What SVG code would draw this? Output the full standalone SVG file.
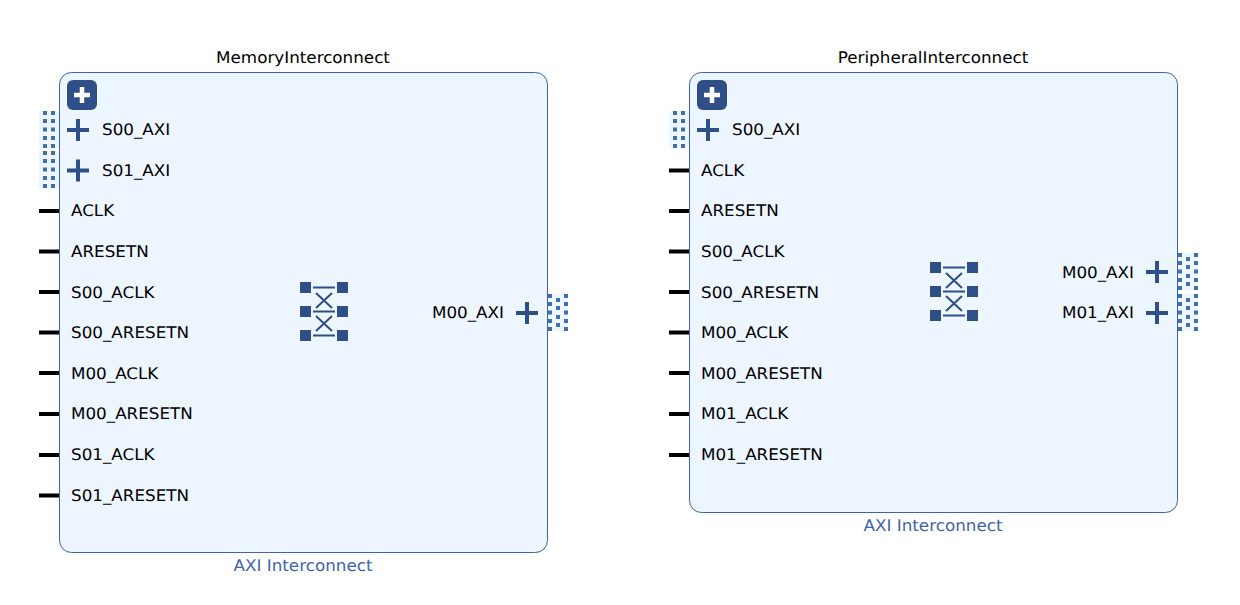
<svg xmlns="http://www.w3.org/2000/svg" width="1240" height="605" viewBox="0 0 1240 605">
<style>
text{font-family:"DejaVu Sans",sans-serif;font-size:16px;fill:#000;text-rendering:geometricPrecision}
.kind{fill:#3f63ad}
.mid{text-anchor:middle}
.end{text-anchor:end}
.box{fill:#edf5ff;stroke:#3f63ad;stroke-width:1}
.bar{stroke:#000;stroke-width:4;fill:none}
.p{stroke:#2f4f88;stroke-width:4;fill:none}
.w{stroke:#fff;stroke-width:4.5;fill:none}
.s{fill:#2f4f88}
.t{stroke:#2f4f88;stroke-width:2;fill:none}
.bg{fill:#edf5ff}
.d{fill:#3f6fae}
</style>
<defs>
<g id="plus"><path class="p" d="M-11 0H11M0-11V11"/></g>
<g id="btn"><rect class="s" x="0" y="0" width="30" height="30" rx="6"/><path class="w" d="M7 15H23M15 7V23"/></g>
<g id="lport"><rect class="bg" x="0" y="0" width="21" height="37"/><g class="d"><rect x="4" y="0" width="4" height="4"/><rect x="12" y="0" width="4" height="4"/><rect x="4" y="8" width="4" height="4"/><rect x="12" y="8" width="4" height="4"/><rect x="4" y="16.500" width="4" height="4"/><rect x="12" y="16.500" width="4" height="4"/><rect x="4" y="25" width="4" height="4"/><rect x="12" y="25" width="4" height="4"/><rect x="4" y="33" width="4" height="4"/><rect x="12" y="33" width="4" height="4"/></g></g>
<g id="rport"><rect class="bg" x="0" y="0" width="20" height="37"/><g class="d"><rect x="0" y="0" width="4" height="4"/><rect x="16" y="0" width="4" height="4"/><rect x="0" y="8" width="4" height="4"/><rect x="16" y="8" width="4" height="4"/><rect x="0" y="16.500" width="4" height="4"/><rect x="16" y="16.500" width="4" height="4"/><rect x="0" y="25" width="4" height="4"/><rect x="16" y="25" width="4" height="4"/><rect x="0" y="33" width="4" height="4"/><rect x="16" y="33" width="4" height="4"/><rect x="8" y="4" width="4" height="4"/><rect x="8" y="12" width="4" height="4"/><rect x="8" y="21" width="4" height="4"/><rect x="8" y="29" width="4" height="4"/></g></g>
<g id="xbar"><rect class="s" x="0" y="0" width="11" height="11"/><rect class="s" x="37" y="0" width="11" height="11"/><rect class="s" x="0" y="24" width="11" height="11"/><rect class="s" x="37" y="24" width="11" height="11"/><rect class="s" x="0" y="48" width="11" height="11"/><rect class="s" x="37" y="48" width="11" height="11"/><path class="t" d="M13 5.500H35M13 29.500H35M13 53.500H35M16 11L32 26M32 11L16 26M16 34L32 49M32 34L16 49"/></g>
</defs>

<g id="connectors">
<path class="bar" d="M39 211H59M39 251.500H59M39 292H59M39 332.500H59M39 373H59M39 414H59M39 455H59M39 495.500H59"/>
<path class="bar" d="M669 170.500H689M669 211H689M669 251.500H689M669 292H689M669 332.500H689M669 373H689M669 414H689M669 455H689"/>
</g>

<g id="MemoryInterconnect">
<text class="mid" transform="translate(303 62.500) scale(1.047 1)">MemoryInterconnect</text>
<use href="#lport" x="39" y="111"/><use href="#lport" x="39" y="151"/><use href="#rport" x="548" y="294"/>
<rect class="box" x="59.500" y="72.500" width="488" height="480" rx="12"/>
<use href="#btn" x="67" y="80"/>
<use href="#plus" x="78" y="130"/><use href="#plus" x="78" y="170.500"/><use href="#plus" x="527" y="313"/>
<use href="#xbar" x="300" y="282"/>
<text transform="translate(102 135) scale(1.047 1)">S00_AXI</text>
<text transform="translate(102 175.500) scale(1.047 1)">S01_AXI</text>
<text transform="translate(71 216) scale(1.047 1)">ACLK</text>
<text transform="translate(71 256.500) scale(1.047 1)">ARESETN</text>
<text transform="translate(71 297.500) scale(1.047 1)">S00_ACLK</text>
<text transform="translate(71 337.500) scale(1.047 1)">S00_ARESETN</text>
<text transform="translate(71 378.500) scale(1.047 1)">M00_ACLK</text>
<text transform="translate(71 419) scale(1.047 1)">M00_ARESETN</text>
<text transform="translate(71 459.500) scale(1.047 1)">S01_ACLK</text>
<text transform="translate(71 500.500) scale(1.047 1)">S01_ARESETN</text>
<text class="end" transform="translate(504 318) scale(1.047 1)">M00_AXI</text>
<text class="kind mid" transform="translate(303 570.500) scale(1.047 1)">AXI Interconnect</text>
</g>

<g id="PeripheralInterconnect">
<text class="mid" transform="translate(933 62.500) scale(1.047 1)">PeripheralInterconnect</text>
<use href="#lport" x="669" y="111"/><use href="#rport" x="1178" y="253"/><use href="#rport" x="1178" y="294"/>
<rect class="box" x="689.500" y="72.500" width="488" height="440" rx="12"/>
<use href="#btn" x="697" y="80"/>
<use href="#plus" x="708" y="130"/><use href="#plus" x="1157" y="272"/><use href="#plus" x="1157" y="313"/>
<use href="#xbar" x="930" y="262"/>
<text transform="translate(732 135) scale(1.047 1)">S00_AXI</text>
<text transform="translate(701 175.500) scale(1.047 1)">ACLK</text>
<text transform="translate(701 216) scale(1.047 1)">ARESETN</text>
<text transform="translate(701 256.500) scale(1.047 1)">S00_ACLK</text>
<text transform="translate(701 297.500) scale(1.047 1)">S00_ARESETN</text>
<text transform="translate(701 337.500) scale(1.047 1)">M00_ACLK</text>
<text transform="translate(701 378.500) scale(1.047 1)">M00_ARESETN</text>
<text transform="translate(701 419) scale(1.047 1)">M01_ACLK</text>
<text transform="translate(701 459.500) scale(1.047 1)">M01_ARESETN</text>
<text class="end" transform="translate(1134 277.500) scale(1.047 1)">M00_AXI</text>
<text class="end" transform="translate(1134 318) scale(1.047 1)">M01_AXI</text>
<text class="kind mid" transform="translate(933 530.500) scale(1.047 1)">AXI Interconnect</text>
</g>
</svg>
